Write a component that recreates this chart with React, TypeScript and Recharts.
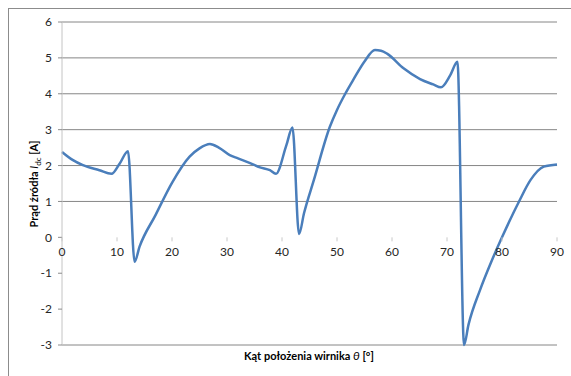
import { LineChart, Line, XAxis, YAxis, ReferenceLine, ReferenceDot } from 'recharts';

// rotor angle [deg] and source current [A]
const theta = [
  0, 2, 3.8, 6.8, 9, 10.5, 12.0, 13.2, 14.1, 17, 20, 23.2, 25, 26.9, 28.5, 30.5, 32, 34.2, 36, 37.8,
  38.9, 40.8, 41.9, 43.1, 44.0, 45.8, 48.7, 50, 51.5, 53, 55, 56.9, 58, 59.1, 62.1, 65.1, 67.5, 68.9,
  70.6, 71.9, 73.1, 73.9, 76.0, 78, 80.0, 83.1, 85.2, 87.6, 90,
];
const current = [
  2.38, 2.15, 2.01, 1.87, 1.77, 2.06, 2.4, -0.68, -0.26, 0.62, 1.52, 2.25, 2.48, 2.6, 2.5, 2.29, 2.2, 2.07, 1.95, 1.87,
  1.77, 2.57, 3.06, 0.09, 0.67, 1.6, 3.08, 3.55, 4.0, 4.4, 4.9, 5.22, 5.2, 5.12, 4.71, 4.41, 4.26, 4.18,
  4.52, 4.89, -3.0, -2.44, -1.47, -0.7, 0.0, 1.0, 1.6, 1.97, 2.03,
];

const xTicks = [0, 10, 20, 30, 40, 50, 60, 70, 80, 90];
const yTicks = [-3, -2, -1, 0, 1, 2, 3, 4, 5, 6];
const gridLevels = [1, 2, 3, 4, 5, 6];

const data = theta.map((t, i) => ({ theta: t, current: current[i] }));

const FONT = 'Lato, "Open Sans", sans-serif';

// x tick mark + label sitting on the zero line
const ZeroTick = ({ cx, cy, label }: { cx?: number; cy?: number; label: number }) => {
  if (cx == null || cy == null) return null;
  return (
    <g>
      <line x1={cx} x2={cx} y1={cy} y2={cy + 4} stroke="#c8c8c8" strokeWidth={1} />
      <text x={cx} y={cy + 19} textAnchor="middle" fontSize={12} fontFamily={FONT} fill="#262626">
        {label}
      </text>
    </g>
  );
};

export default function App() {
  return (
    <div style={{ position: 'fixed', left: 0, top: 0, width: 571, height: 376, background: '#fff' }}>
      <div
        style={{
          position: 'absolute',
          left: 8,
          top: 8,
          width: 563,
          height: 368,
          borderTop: '1px solid #8c8c8c',
          borderLeft: '1px solid #8c8c8c',
          boxSizing: 'border-box',
        }}
      />
      <LineChart
        width={571}
        height={376}
        data={data}
        margin={{ top: 22, right: 14, bottom: 31, left: 0 }}
        style={{ position: 'absolute', left: 0, top: 0 }}
      >
        <XAxis dataKey="theta" type="number" domain={[0, 90]} ticks={xTicks} hide />
        <YAxis
          type="number"
          domain={[-3, 6]}
          ticks={yTicks}
          interval={0}
          width={62}
          axisLine={{ stroke: '#c4c4c4' }}
          tickLine={{ stroke: '#8c8c8c' }}
          tickSize={4}
          tickMargin={6}
          tick={{ fontSize: 12, fontFamily: FONT, fill: '#262626' }}
        />
        {gridLevels.map((v) => (
          <ReferenceLine key={v} y={v} stroke="#868686" strokeWidth={1} />
        ))}
        <ReferenceLine y={-3} stroke="#868686" strokeWidth={1} />
        {xTicks.map((t) => (
          <ReferenceDot
            key={t}
            x={t}
            y={0}
            r={0}
            shape={(p: any) => <ZeroTick cx={p.cx} cy={p.cy} label={t} />}
          />
        ))}
        <Line
          type="monotone"
          dataKey="current"
          stroke="#4a7ebb"
          strokeWidth={2.5}
          dot={false}
          isAnimationActive={false}
        />
        <text
          x={309}
          y={360}
          textAnchor="middle"
          fontSize={11}
          fontWeight="bold"
          fontFamily={FONT}
          fill="#000"
        >
          Kąt położenia wirnika <tspan fontStyle="italic" fontWeight="normal" fontSize={12}>θ</tspan> [°]
        </text>
        <text
          transform="translate(38, 184) rotate(-90)"
          textAnchor="middle"
          fontSize={11}
          fontWeight="bold"
          fontFamily={FONT}
          fill="#000"
        >
          Prąd źródła <tspan fontStyle="italic" fontWeight="normal">I</tspan>
          <tspan fontSize={8} fontWeight="normal" dy={3}>dc</tspan>
          <tspan dy={-3}> [A]</tspan>
        </text>
      </LineChart>
    </div>
  );
}
